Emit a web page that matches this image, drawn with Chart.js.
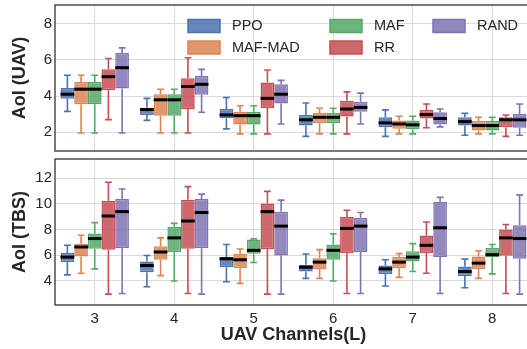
<!DOCTYPE html>
<html>
<head>
<meta charset="utf-8">
<script src="https://cdn.jsdelivr.net/npm/chart.js@4.4.0/dist/chart.umd.min.js"></script>
<style>
  html, body { margin: 0; padding: 0; background: #fff; overflow: hidden; width: 527px; height: 349px; }
  #wrap { position: relative; width: 532px; height: 349px; }
  canvas { display: block; }
</style>
</head>
<body>
<div id="wrap">
  <canvas id="uavChart" width="532" height="156"></canvas>
  <canvas id="tbsChart" width="532" height="193"></canvas>
</div>
<script>
const channels = ['3', '4', '5', '6', '7', '8'];
const methods = ['PPO', 'MAF-MAD', 'MAF', 'RR', 'RAND'];
const colors = ['#4c72b0', '#dd8452', '#55a868', '#c44e52', '#8172b3'];
const fills = ['rgba(76,114,176,0.85)', 'rgba(221,132,82,0.85)', 'rgba(85,168,104,0.85)', 'rgba(196,78,82,0.85)', 'rgba(129,114,179,0.85)'];

// [min, q1, median, q3, max] for each channel count
const uavPPO    = [[3.15, 3.85, 4.10, 4.45, 5.15], [2.65, 2.95, 3.25, 3.35, 3.87], [2.18, 2.77, 2.95, 3.28, 3.92], [1.76, 2.36, 2.68, 2.95, 3.61], [1.76, 2.27, 2.51, 2.82, 3.23], [1.82, 2.36, 2.58, 2.82, 3.04]];
const uavMAFMAD = [[1.95, 3.55, 4.38, 4.78, 5.15], [1.95, 2.91, 3.79, 4.10, 4.38], [1.90, 2.42, 2.91, 3.13, 3.46], [1.90, 2.51, 2.82, 3.06, 3.32], [1.90, 2.18, 2.45, 2.64, 2.88], [1.90, 2.09, 2.36, 2.61, 2.82]];
const uavMAF    = [[1.95, 3.55, 4.38, 4.78, 5.15], [1.95, 2.91, 3.79, 4.10, 4.38], [1.90, 2.42, 2.91, 3.13, 3.46], [1.90, 2.51, 2.82, 3.06, 3.32], [1.90, 2.15, 2.40, 2.64, 2.88], [1.90, 2.09, 2.36, 2.61, 2.82]];
const uavRR     = [[2.69, 4.34, 5.07, 5.48, 6.08], [1.95, 3.28, 4.53, 4.98, 6.12], [1.90, 3.33, 3.87, 4.75, 5.44], [1.90, 2.86, 3.28, 3.74, 4.23], [2.24, 2.75, 2.97, 3.23, 3.56], [1.76, 2.27, 2.68, 2.82, 2.95]];
const uavRAND   = [[1.95, 4.42, 5.57, 6.39, 6.67], [3.10, 4.07, 4.65, 5.11, 5.48], [2.45, 3.59, 4.10, 4.65, 4.87], [2.45, 3.13, 3.37, 3.68, 4.16], [2.29, 2.42, 2.75, 3.10, 3.28], [1.82, 2.24, 2.68, 3.00, 3.56]];

const tbsPPO    = [[4.45, 5.45, 5.84, 6.16, 6.76], [3.53, 4.66, 5.18, 5.50, 5.97], [3.92, 5.05, 5.71, 5.84, 6.82], [4.18, 4.71, 5.05, 5.24, 6.08], [3.58, 4.53, 4.92, 5.18, 5.63], [3.45, 4.37, 4.71, 5.10, 5.68]];
const tbsMAFMAD = [[4.58, 5.89, 6.63, 6.89, 7.55], [4.39, 5.63, 6.24, 6.68, 7.34], [3.79, 4.97, 5.63, 6.11, 6.47], [4.18, 4.92, 5.45, 5.76, 6.42], [4.26, 4.97, 5.45, 5.84, 6.11], [4.18, 4.92, 5.37, 5.89, 6.34]];
const tbsMAF    = [[4.92, 6.50, 7.29, 7.68, 8.53], [3.97, 6.21, 7.34, 8.21, 8.47], [5.42, 6.11, 6.37, 7.21, 7.26], [3.97, 5.63, 6.37, 6.82, 7.66], [4.71, 5.50, 5.84, 6.29, 6.89], [4.53, 5.84, 6.03, 6.55, 6.82]];
const tbsRR     = [[2.95, 6.42, 9.05, 10.24, 11.68], [3.00, 6.50, 8.66, 10.32, 11.34], [2.95, 6.47, 9.39, 10.03, 10.97], [3.00, 6.16, 8.08, 8.97, 9.50], [4.58, 6.16, 6.76, 7.53, 8.58], [3.00, 5.95, 7.34, 8.00, 8.39]];
const tbsRAND   = [[3.00, 6.55, 9.39, 10.37, 11.16], [2.95, 6.55, 9.32, 10.37, 10.76], [2.95, 5.97, 8.26, 9.39, 10.29], [3.00, 6.24, 8.26, 8.92, 9.32], [3.00, 5.84, 8.13, 10.16, 10.50], [2.95, 5.71, 7.29, 8.32, 10.68]];

const textColor = '#262626';
const gridColor = '#dadada';
Chart.defaults.font.family = '"Liberation Sans", Arial, sans-serif';
Chart.defaults.color = textColor;

// whiskers, caps and medians on top of the floating bars
const boxWhisker = {
  id: 'boxWhisker',
  afterDatasetsDraw(chart) {
    const ctx = chart.ctx;
    const y = chart.scales.y;
    chart.data.datasets.forEach((ds, i) => {
      chart.getDatasetMeta(i).data.forEach((bar, j) => {
        const [lo, q1, med, q3, hi] = ds.stats[j];
        const x = bar.x, w = bar.width;
        const yLo = y.getPixelForValue(lo), yQ1 = y.getPixelForValue(q1);
        const yQ3 = y.getPixelForValue(q3), yHi = y.getPixelForValue(hi);
        const yMed = y.getPixelForValue(med);
        ctx.save();
        ctx.strokeStyle = ds.borderColor;
        ctx.lineWidth = 1.6;
        ctx.beginPath();
        ctx.moveTo(x, yQ3); ctx.lineTo(x, yHi);
        ctx.moveTo(x, yQ1); ctx.lineTo(x, yLo);
        ctx.moveTo(x - w / 4, yHi); ctx.lineTo(x + w / 4, yHi);
        ctx.moveTo(x - w / 4, yLo); ctx.lineTo(x + w / 4, yLo);
        ctx.stroke();
        ctx.strokeStyle = '#000';
        ctx.lineWidth = 3;
        ctx.beginPath();
        ctx.moveTo(x - w / 2, yMed); ctx.lineTo(x + w / 2, yMed);
        ctx.stroke();
        ctx.restore();
      });
    });
  }
};

const frame = {
  id: 'frame',
  afterDraw(chart) {
    const {ctx, chartArea: a} = chart;
    ctx.save();
    ctx.strokeStyle = '#333';
    ctx.lineWidth = 1.3;
    ctx.strokeRect(a.left, a.top, a.right - a.left, a.bottom - a.top);
    ctx.restore();
  }
};

// legend in 3 columns, filled column by column
const boxLegend = {
  id: 'boxLegend',
  afterDraw(chart) {
    const ctx = chart.ctx;
    const left = chart.chartArea.left;
    const colX = [133, 275, 378];
    const rowY = [26, 47.5];
    ctx.save();
    ctx.font = '14.5px "Liberation Sans", Arial, sans-serif';
    ctx.textBaseline = 'middle';
    chart.data.datasets.forEach((ds, i) => {
      const x = left + colX[Math.floor(i / 2)];
      const y = rowY[i % 2];
      ctx.fillStyle = ds.backgroundColor;
      ctx.fillRect(x, y - 6.5, 32, 13);
      ctx.strokeStyle = ds.borderColor;
      ctx.lineWidth = 1.5;
      ctx.strokeRect(x, y - 6.5, 32, 13);
      ctx.fillStyle = textColor;
      ctx.fillText(ds.label, x + 44, y);
    });
    ctx.restore();
  }
};

function makeChart(id, series, yMin, yMax, yTitle, bottom) {
  return new Chart(document.getElementById(id), {
    type: 'bar',
    data: {
      labels: channels,
      datasets: series.map((s, i) => ({
        label: methods[i],
        data: s.map(v => [v[1], v[3]]),
        stats: s,
        backgroundColor: fills[i],
        borderColor: colors[i],
        borderWidth: 1.5,
        borderSkipped: false,
        categoryPercentage: 0.86,
        barPercentage: 1.0
      }))
    },
    options: {
      responsive: false,
      animation: false,
      events: [],
      layout: { padding: { top: bottom ? 3 : 5, bottom: bottom ? 0 : 5, left: 0, right: 0 } },
      plugins: { legend: { display: false }, tooltip: { enabled: false } },
      scales: {
        x: {
          grid: { color: gridColor, offset: false, drawTicks: false },
          border: { display: false },
          ticks: { display: bottom, padding: 5, font: { size: 15 } },
          title: {
            display: bottom,
            text: 'UAV Channels(L)',
            font: { size: 18, weight: 'bold' },
            padding: { top: 2, bottom: 3 }
          },
          afterFit: s => { s.height = bottom ? 44 : 0; s.paddingLeft = 0; s.paddingRight = 0; }
        },
        y: {
          min: yMin,
          max: yMax,
          grid: { color: gridColor, drawTicks: false },
          border: { display: false },
          ticks: { stepSize: 2, includeBounds: false, padding: 3, font: { size: 15 } },
          title: {
            display: true,
            text: yTitle,
            font: { size: 18, weight: 'bold' },
            padding: { top: 9, bottom: 0 }
          },
          afterFit: s => { s.width = 55; s.paddingTop = 0; s.paddingBottom = 0; }
        }
      }
    },
    plugins: bottom ? [boxWhisker, frame] : [boxWhisker, frame, boxLegend]
  });
}

makeChart('uavChart', [uavPPO, uavMAFMAD, uavMAF, uavRR, uavRAND], 0.95, 9.05, 'AoI (UAV)', false);
makeChart('tbsChart', [tbsPPO, tbsMAFMAD, tbsMAF, tbsRR, tbsRAND], 2.1, 13.5, 'AoI (TBS)', true);
</script>
</body>
</html>
